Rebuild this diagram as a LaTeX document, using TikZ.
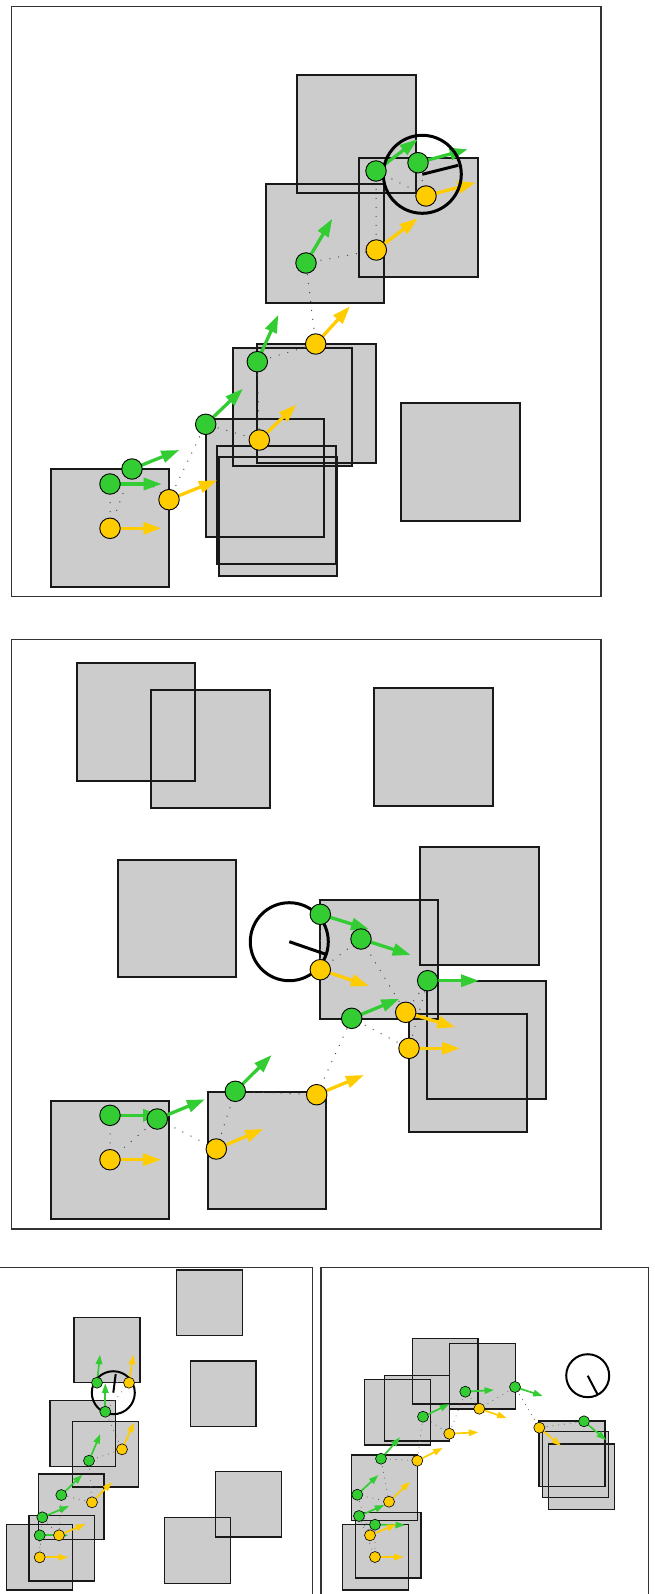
\documentclass[tikz,border=0pt]{standalone}
\usetikzlibrary{arrows.meta}
\pgfdeclarelayer{fills}
\pgfdeclarelayer{outlines}
\pgfdeclarelayer{links}
\pgfdeclarelayer{arrs}
\pgfsetlayers{fills,outlines,links,arrs,main}
\definecolor{gfill}{HTML}{33CC33}
\definecolor{yfill}{HTML}{FFCC00}
\definecolor{bfill}{HTML}{CCCCCC}
\tikzset{
 boxfill/.style={fill=bfill},
 boxline/.style={draw=black!90, line width=2pt, line join=miter},
 sboxline/.style={line width=1.3pt},
 frameline/.style={draw=black!80, line width=1.2pt},
 sframeline/.style={draw=black!80, line width=1.5pt},
 gbig/.style={circle, draw=black, line width=0.9pt, fill=gfill, minimum size=20.5pt, inner sep=0pt},
 ybig/.style={gbig, fill=yfill},
 gsmall/.style={gbig, line width=0.6pt, minimum size=11pt},
 ysmall/.style={gsmall, fill=yfill},
 gbigarr/.style={draw=gfill, line width=3.3pt, -{Triangle[length=18pt,width=12pt]}},
 ybigarr/.style={gbigarr, draw=yfill},
 gsmallarr/.style={draw=gfill, line width=1.7pt, -{Triangle[length=9.5pt,width=6.5pt]}},
 ysmallarr/.style={gsmallarr, draw=yfill},
 chainbig/.style={draw=black!70, line width=1pt, dash pattern=on 1pt off 8pt},
 chainsmall/.style={draw=black!60, line width=0.8pt, dash pattern=on 0.8pt off 5pt},
 robotbig/.style={circle, draw=black, line width=3pt, minimum size=78pt, inner sep=0pt},
 robotsmall/.style={robotbig, line width=2pt, minimum size=43pt},
 headbig/.style={draw=black, line width=3pt},
 headsmall/.style={draw=black, line width=2pt},
}
% box: optional extra outline style, corner 1, corner 2
\newcommand\obox[3][]{%
 \begin{pgfonlayer}{fills}\fill[boxfill] #2 rectangle #3;\end{pgfonlayer}%
 \begin{pgfonlayer}{outlines}\draw[boxline,#1] #2 rectangle #3;\end{pgfonlayer}}
% dot with arrow: style, name, x, y, tip x, tip y
\newcommand\dotarr[6]{%
 \coordinate (#2t) at (#5,#6);%
 \node[#1] (#2) at (#3,#4) {};%
 \begin{pgfonlayer}{arrs}\draw[#1arr] (#2.center) -- (#2t);\end{pgfonlayer}}

\begin{document}
\begin{tikzpicture}[x=1pt,y=-1pt]
\useasboundingbox (0,0) rectangle (654,1594);

%================ PANEL 1 ================
\draw[frameline] (11.2,6.9) rectangle (601,596.7);
\obox{(297.3,75.3)}{(415.7,193.3)}
\obox{(265.7,184.3)}{(383.7,302.7)}
\obox{(359,158.3)}{(477.7,276.7)}
\obox{(233.3,347.7)}{(352,466)}
\obox{(257,344)}{(375.7,462.7)}
\obox{(205.7,418.7)}{(324.3,537)}
\obox{(217,446)}{(336,564)}
\obox{(219,457.3)}{(337.3,575.7)}
\obox{(51,469.3)}{(169.3,587.3)}
\obox{(401.3,402.7)}{(519.7,521)}

\node[robotbig] (ra) at (422.3,174.3) {};
\coordinate (rah) at (458.3,165.3);
\draw[headbig] (ra.center) -- (rah);

\dotarr{gbig}{ag0}{110}{484}{161.7}{484}
\dotarr{ybig}{ay0}{110}{528.3}{161.3}{528.3}
\dotarr{gbig}{ag1}{132}{469}{179.3}{450}
\dotarr{ybig}{ay1}{169}{499.7}{217}{480.3}
\dotarr{gbig}{ag2}{205.7}{424.3}{243}{388.7}
\dotarr{ybig}{ay2}{259.3}{440}{296.3}{404.7}
\dotarr{gbig}{ag3}{257.3}{361.7}{278.3}{314.7}
\dotarr{ybig}{ay3}{315.7}{344}{350}{306.3}
\dotarr{gbig}{ag4}{306}{263}{332.3}{218.7}
\dotarr{ybig}{ay4}{376.3}{250}{417.7}{218.3}
\dotarr{gbig}{ag5}{376}{171}{417.7}{139.3}
\dotarr{ybig}{ay5}{426}{196}{475.7}{182.7}
\dotarr{gbig}{ag6}{418}{162.7}{467.7}{149.3}
\begin{pgfonlayer}{links}
\draw[chainbig] (ag0.center) -- (ay0.center) -- (ag1.center) -- (ay1.center) -- (ag2.center) -- (ay2.center) -- (ag3.center) -- (ay3.center) -- (ag4.center) -- (ay4.center) -- (ag5.center) -- (ay5.center) -- (ag6.center);
\end{pgfonlayer}

%================ PANEL 2 ================
\draw[frameline] (11.2,639.2) rectangle (601,1229);
\obox{(76.7,663.3)}{(195,781)}
\obox{(151.3,690.3)}{(269.7,808)}
\obox{(374.3,688.3)}{(493,806)}
\obox{(118,859.7)}{(236.3,977.3)}
\obox{(420,847)}{(538.7,964.7)}
\obox{(320,900.3)}{(438,1018.7)}
\obox{(427.3,980.7)}{(545.7,1099)}
\obox{(409,1014)}{(527.3,1132.3)}
\obox{(51,1100.7)}{(169.3,1218.7)}
\obox{(207.7,1091.7)}{(326,1209.3)}

\node[robotbig] (rb) at (289.3,941.7) {};
\coordinate (rbh) at (325,954);
\draw[headbig] (rb.center) -- (rbh);

\dotarr{gbig}{bg0}{110}{1115.3}{161}{1115.3}
\dotarr{ybig}{by0}{110}{1159.7}{161}{1159.7}
\dotarr{gbig}{bg1}{157.3}{1119}{205}{1099.3}
\dotarr{ybig}{by1}{216.3}{1149}{263.3}{1129}
\dotarr{gbig}{bg2}{235.3}{1091.3}{271.7}{1055}
\dotarr{ybig}{by2}{316.7}{1094.7}{364}{1075}
\dotarr{gbig}{bg3}{351.7}{1018.3}{399.3}{998.7}
\dotarr{ybig}{by3}{409}{1048.3}{460}{1048.3}
\dotarr{gbig}{bg4}{427.7}{980.7}{479}{980.7}
\dotarr{ybig}{by4}{405.7}{1012.3}{455.3}{1027.3}
\dotarr{gbig}{bg5}{361}{939}{410.7}{955}
\dotarr{ybig}{by5}{320.3}{969.7}{369}{986}
\dotarr{gbig}{bg6}{320.3}{914.3}{369}{929.3}
\begin{pgfonlayer}{links}
\draw[chainbig] (bg0.center) -- (by0.center) -- (bg1.center) -- (by1.center) -- (bg2.center) -- (by2.center) -- (bg3.center) -- (by3.center) -- (bg4.center) -- (by4.center) -- (bg5.center) -- (by5.center) -- (bg6.center);
\end{pgfonlayer}

%================ PANEL 3 (bottom left) ================
\draw[sframeline] (-10,1267.3) rectangle (312.7,1610);
\obox[sboxline]{(176.7,1270)}{(242.3,1335.7)}
\obox[sboxline]{(74,1317.3)}{(140,1382.7)}
\obox[sboxline]{(190.3,1361)}{(256,1426.7)}
\obox[sboxline]{(50,1400.7)}{(115.7,1466.3)}
\obox[sboxline]{(72.7,1421.3)}{(138.3,1487)}
\obox[sboxline]{(38.3,1474)}{(104,1539.7)}
\obox[sboxline]{(215.7,1471.3)}{(281.7,1537)}
\obox[sboxline]{(29,1515.3)}{(94.7,1581)}
\obox[sboxline]{(6.7,1524.7)}{(72.3,1590)}
\obox[sboxline]{(164.7,1517.7)}{(230.3,1583.3)}

\node[robotsmall] (rc) at (113.3,1392.7) {};
\coordinate (rch) at (115.7,1374);
\draw[headsmall] (rc.center) -- (rch);

\dotarr{gsmall}{cg0}{39.7}{1535.3}{68.3}{1535.3}
\dotarr{ysmall}{cy0}{39.7}{1557.3}{68}{1557.3}
\dotarr{gsmall}{cg1}{42.3}{1517.3}{69}{1506}
\dotarr{ysmall}{cy1}{59}{1535.3}{85.3}{1524}
\dotarr{gsmall}{cg2}{61.3}{1495}{82.3}{1474.7}
\dotarr{ysmall}{cy2}{92}{1502.3}{112}{1482}
\dotarr{gsmall}{cg3}{89}{1460.7}{100.3}{1434}
\dotarr{ysmall}{cy3}{122}{1449.3}{134}{1422.7}
\dotarr{gsmall}{cg4}{105.3}{1411.7}{105.3}{1383.3}
\dotarr{ysmall}{cy4}{129}{1382.7}{133.3}{1354.7}
\dotarr{gsmall}{cg5}{97}{1382.7}{100}{1354.7}
\begin{pgfonlayer}{links}
\draw[chainsmall] (cg0.center) -- (cy0.center) -- (cg1.center) -- (cy1.center) -- (cg2.center) -- (cy2.center) -- (cg3.center) -- (cy3.center) -- (cg4.center) -- (cy4.center) -- (cg5.center);
\end{pgfonlayer}

%================ PANEL 4 (bottom right) ================
\draw[sframeline] (321,1267.3) rectangle (648.3,1610);
\obox[sboxline]{(412.3,1338.7)}{(478,1404)}
\obox[sboxline]{(449.7,1343.3)}{(515.3,1409)}
\obox[sboxline]{(364.3,1379.3)}{(430.3,1445)}
\obox[sboxline]{(384.3,1375.3)}{(449.7,1441)}
\obox[sboxline]{(351.3,1455)}{(417.3,1520.7)}
\obox[sboxline]{(355.3,1512.3)}{(421,1578)}
\obox[sboxline]{(342.3,1524.3)}{(408.3,1590)}
\obox[sboxline]{(539,1421)}{(605,1486.7)}
\obox[sboxline]{(542.7,1431.7)}{(608.3,1497.3)}
\obox[sboxline]{(548.7,1444)}{(614.3,1509.7)}

\node[robotsmall] (rd) at (587.7,1375.7) {};
\coordinate (rdh) at (597.7,1394.7);
\draw[headsmall] (rd.center) -- (rdh);

\dotarr{gsmall}{dg0}{375}{1524.7}{405}{1525}
\dotarr{ysmall}{dy0}{375}{1557}{403.7}{1557}
\dotarr{gsmall}{dg1}{359}{1516}{384.3}{1505}
\dotarr{ysmall}{dy1}{370}{1535.3}{396.3}{1524.3}
\dotarr{gsmall}{dg2}{357.3}{1494.7}{378.3}{1475}
\dotarr{ysmall}{dy2}{389}{1501.7}{410}{1481.7}
\dotarr{gsmall}{dg3}{381}{1458.7}{400}{1437.3}
\dotarr{ysmall}{dy3}{417.3}{1460.7}{442.7}{1448}
\dotarr{gsmall}{dg4}{423}{1416.7}{449.3}{1404}
\dotarr{ysmall}{dy4}{449.3}{1433.7}{478.3}{1432.3}
\dotarr{gsmall}{dg5}{465.3}{1391.7}{494}{1390}
\dotarr{ysmall}{dy5}{479.3}{1408.7}{506.7}{1418}
\dotarr{gsmall}{dg6}{515}{1387}{542.7}{1396}
\dotarr{ysmall}{dy6}{539.3}{1427.7}{561}{1446}
\dotarr{gsmall}{dg7}{584}{1421.3}{606}{1440}
\begin{pgfonlayer}{links}
\draw[chainsmall] (dg0.center) -- (dy0.center) -- (dg1.center) -- (dy1.center) -- (dg2.center) -- (dy2.center) -- (dg3.center) -- (dy3.center) -- (dg4.center) -- (dy4.center) -- (dg5.center) -- (dy5.center) -- (dg6.center) -- (dy6.center) -- (dg7.center);
\end{pgfonlayer}
\end{tikzpicture}
\end{document}
